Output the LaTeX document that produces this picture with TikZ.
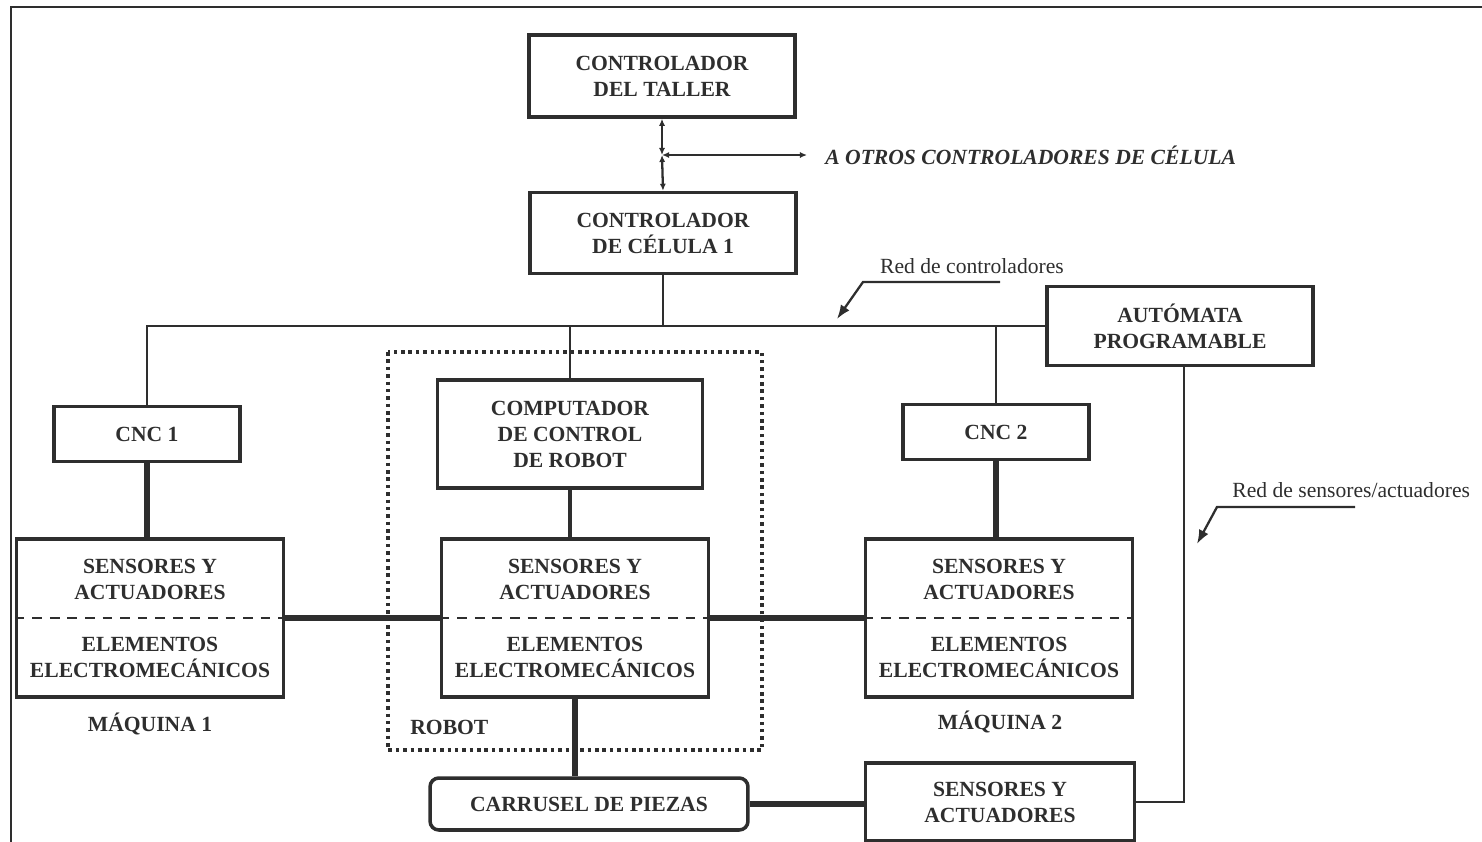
\documentclass[tikz,border=0pt]{standalone}
\usepackage{fontspec}
\setmainfont{Liberation Serif}
\usetikzlibrary{arrows.meta,positioning}

\definecolor{ink}{HTML}{2E2E2E}

\tikzset{
  box/.style={draw=ink, line width=2pt, text=ink, align=center, inner sep=0pt,
    font=\bfseries\fontsize{12.3}{14.8}\selectfont},
  smallbox/.style={box, minimum width=3.73cm, minimum height=1.1cm},
  bigbox/.style={box, minimum width=5.32cm, minimum height=1.62cm},
  splitbox/.style={box, minimum width=5.34cm, minimum height=3.16cm},
  lbl/.style={text=ink, inner sep=0pt, font=\bfseries\fontsize{12.3}{14.8}\selectfont},
  note/.style={text=ink, inner sep=0pt, font=\fontsize{12.3}{14.8}\selectfont},
  bus/.style={draw=ink, line width=1.3pt},
  link/.style={draw=ink, line width=3.2pt},
  midlink/.style={draw=ink, line width=2.3pt},
  twoway/.style={draw=ink, line width=1.3pt, {Latex[length=4pt,width=3.5pt]}-{Latex[length=4pt,width=3.5pt]}},
  pointer/.style={draw=ink, line width=1.3pt, -{Latex[length=8pt,width=6pt]}},
  split/.style={draw=ink, line width=1.5pt, dash pattern=on 5.5pt off 4.5pt},
  robotframe/.style={draw=ink, line width=2pt, dash pattern=on 2pt off 2.2pt}
}

\begin{document}
\begin{tikzpicture}[x=0.02cm, y=-0.02cm]
\useasboundingbox (0,0) rectangle (1482,842);
\draw[ink, line width=1.4pt] (10,7) -- (1482,7);
\draw[ink, line width=1.4pt] (11,7) -- (11,842);

% controladores
\node[bigbox, minimum height=1.64cm] (taller) at (662,76) {CONTROLADOR\\DEL TALLER};
\node[bigbox] (celula) at (663,233) {CONTROLADOR\\DE CÉLULA 1};
\node[bigbox, minimum height=1.58cm] (automata) at (1180,326) {AUTÓMATA\\PROGRAMABLE};
\coordinate (jn) at (662,155);
\coordinate (otros) at (807,155);
\node[lbl, anchor=west, font=\bfseries\itshape\fontsize{12.3}{14.8}\selectfont] (otrostxt) at (825,155) {A OTROS CONTROLADORES DE CÉLULA};
\draw[twoway] (taller.south) -- (jn);
\draw[twoway] (jn) -- (celula.north);
\draw[twoway] (jn) -- (otros);

% maquinas
\node[smallbox] (cnc1) at (147,434) {CNC 1};
\node[box, minimum width=5.3cm, minimum height=2.16cm] (comp) at (570,434) {COMPUTADOR\\DE CONTROL\\DE ROBOT};
\node[smallbox] (cnc2) at (996,432) {CNC 2};

\node[splitbox] (sa1) at (150,618) {SENSORES Y\\ACTUADORES\\[14.8pt]ELEMENTOS\\ELECTROMECÁNICOS};
\node[splitbox] (sar) at (575,618) {SENSORES Y\\ACTUADORES\\[14.8pt]ELEMENTOS\\ELECTROMECÁNICOS};
\node[splitbox] (sa2) at (999,618) {SENSORES Y\\ACTUADORES\\[14.8pt]ELEMENTOS\\ELECTROMECÁNICOS};
\foreach \n in {sa1,sar,sa2}
  \draw[split] (\n.west) -- (\n.east);

\node[lbl] (maq1) at (150,724) {MÁQUINA 1};
\node[lbl] (maq2) at (1000,722) {MÁQUINA 2};
\node[lbl, anchor=west] (robot) at (410,727) {ROBOT};
\draw[robotframe] (388,352) rectangle (762,750);

\node[box, rounded corners=5pt, minimum width=6.36cm, minimum height=1.04cm] (carr) at (589,804) {CARRUSEL DE PIEZAS};
\node[box, minimum width=5.38cm, minimum height=1.56cm] (sa3) at (1000,802) {SENSORES Y\\ACTUADORES};

% red de controladores
\draw[bus] (cnc1.north) |- (automata.west);
\draw[bus] (celula.south) -- (celula.south |- automata.west);
\draw[bus] (comp.north) -- (comp.north |- automata.west);
\draw[bus] (cnc2.north) -- (cnc2.north |- automata.west);

\node[note] (redc) at (972,266) {Red de controladores};
\coordinate (redcA) at (1000,282);
\coordinate (redcB) at (863,282);
\coordinate (redcC) at (837,319);
\draw[pointer] (redcA) -- (redcB) -- (redcC);

% red de sensores/actuadores
\draw[link] (cnc1.south) -- (cnc1.south |- sa1.north);
\draw[link] (cnc2.south) -- (cnc2.south |- sa2.north);
\draw[midlink] (comp.south) -- (comp.south |- sar.north);
\draw[link] (sa1.east) -- (sar.west);
\draw[link] (sar.east) -- (sa2.west);
\draw[link] (sar.south) -- (sar.south |- carr.north);
\draw[link] (carr.east) -- (carr.east -| sa3.west);
\draw[bus] ([xshift=0.08cm]automata.south) |- (sa3.east);

\node[note, anchor=west] (reds) at (1232,490) {Red de sensores/actuadores};
\coordinate (redsA) at (1355,507);
\coordinate (redsB) at (1217,507);
\coordinate (redsC) at (1197,544);
\draw[pointer] (redsA) -- (redsB) -- (redsC);
\end{tikzpicture}
\end{document}
